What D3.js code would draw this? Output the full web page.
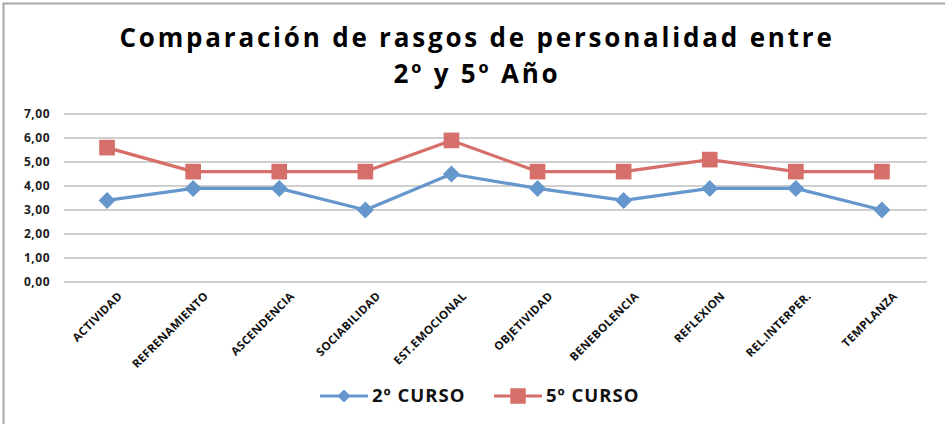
<!DOCTYPE html>
<html>
<head>
<meta charset="utf-8">
<script src="https://cdn.jsdelivr.net/npm/d3@7"></script>
<style>
  body { margin: 0; background: #fff; }
  svg { display: block; font-family: "Open Sans", "DejaVu Sans", sans-serif; }
</style>
</head>
<body>
<div id="chart"></div>
<script>
// data
var categories = ["ACTIVIDAD", "REFRENAMIENTO", "ASCENDENCIA", "SOCIABILIDAD", "EST.EMOCIONAL",
                  "OBJETIVIDAD", "BENEBOLENCIA", "REFLEXION", "REL.INTERPER.", "TEMPLANZA"];
var curso2 = [3.4, 3.9, 3.9, 3.0, 4.5, 3.9, 3.4, 3.9, 3.9, 3.0];
var curso5 = [5.6, 4.6, 4.6, 4.6, 5.9, 4.6, 4.6, 5.1, 4.6, 4.6];
var seriesNames = ["2º CURSO", "5º CURSO"];
var yTicks = [0, 1, 2, 3, 4, 5, 6, 7];

var width = 945, height = 424;
var blue = "#6597cd", red = "#d66e69";

var svg = d3.select("#chart").append("svg")
    .attr("width", width)
    .attr("height", height);

// frame
svg.append("path")
    .attr("d", "M3.5," + height + " V3.5 H" + width)
    .attr("fill", "none")
    .attr("stroke", "#a6a6a6")
    .attr("stroke-width", 2);

/* Scales */
var xScale = d3.scaleBand()
    .domain(categories)
    .range([64, 925]);

var yScale = d3.scaleLinear()
    .domain([0, 7])
    .range([282, 114]);

var fmt = v => d3.format(".2f")(v).replace(".", ",");

// gridlines
svg.append("g")
    .selectAll("line")
    .data(yTicks)
    .enter().append("line")
    .attr("x1", 64).attr("x2", 927)
    .attr("y1", d => yScale(d)).attr("y2", d => yScale(d))
    .attr("stroke", "#bfbfbf")
    .attr("stroke-width", 1.3);

// y axis labels
var yAxis = d3.axisLeft(yScale)
    .tickValues(yTicks)
    .tickFormat(fmt)
    .tickSize(0)
    .tickPadding(14);

svg.append("g")
    .attr("transform", "translate(64,0)")
    .call(yAxis)
    .call(g => g.select(".domain").remove())
    .selectAll("text")
    .attr("font-family", "Open Sans, sans-serif")
    .attr("font-size", "12px")
    .attr("font-weight", "bold")
    .attr("letter-spacing", "0.5px")
    .attr("fill", "#222");

// x axis labels, rotated
var xAxis = d3.axisBottom(xScale).tickSize(0).tickPadding(0);
svg.append("g")
    .attr("transform", "translate(0,282)")
    .call(xAxis)
    .call(g => g.select(".domain").remove())
    .selectAll("text")
    .attr("font-family", "Open Sans, sans-serif")
    .attr("font-size", "11.5px")
    .attr("font-weight", "bold")
    .attr("letter-spacing", "0.3px")
    .attr("fill", "#111")
    .attr("text-anchor", "end")
    .attr("dy", "0.35em")
    .attr("transform", "translate(13,12) rotate(-45)");

/* Lines */
var line = d3.line()
    .x((d, i) => xScale(categories[i]) + xScale.bandwidth() / 2)
    .y(d => yScale(d));

var diamond = d3.symbol().type(d3.symbolDiamond2).size(185);
var square = d3.symbol().type(d3.symbolSquare).size(245);

var series = [
    {name: seriesNames[0], values: curso2, color: blue, symbol: diamond},
    {name: seriesNames[1], values: curso5, color: red, symbol: square}
];

series.forEach(s => {
    svg.append("path")
        .attr("d", line(s.values))
        .attr("fill", "none")
        .attr("stroke", s.color)
        .attr("stroke-width", 3.2)
        .attr("stroke-linejoin", "round");

    svg.append("g")
        .selectAll("path")
        .data(s.values)
        .enter().append("path")
        .attr("transform", (d, i) => `translate(${xScale(categories[i]) + xScale.bandwidth() / 2},${yScale(d)})`)
        .attr("d", s.symbol)
        .attr("fill", s.color);
});

// Title
var title = svg.append("g")
    .attr("font-family", "Open Sans, sans-serif")
    .attr("font-weight", "bold")
    .attr("fill", "#000")
    .attr("text-anchor", "middle")
    .attr("letter-spacing", "2.8px");
title.append("text")
    .attr("x", 477).attr("y", 47)
    .style("font-size", "26px")
    .text("Comparación de rasgos de personalidad entre");
title.append("text")
    .attr("x", 477).attr("y", 83)
    .style("font-size", "26px")
    .text("2º y 5º Año");

// Legends
var legendX = [320, 494];
var legend = svg.selectAll(".legend")
    .data(series)
    .enter().append("g")
    .attr("class", "legend")
    .attr("transform", (d, i) => `translate(${legendX[i]},396)`);

legend.append("line")
    .attr("x1", 0).attr("x2", 48)
    .attr("stroke", d => d.color)
    .attr("stroke-width", 3.2);
legend.append("path")
    .attr("transform", "translate(24,0)")
    .attr("d", (d, i) => i == 0 ? d3.symbol().type(d3.symbolDiamond2).size(110)() : d3.symbol().type(d3.symbolSquare).size(240)())
    .attr("fill", d => d.color);
legend.append("text")
    .attr("x", 52)
    .attr("dy", "0.35em")
    .attr("font-family", "Open Sans, sans-serif")
    .attr("font-size", "18.5px")
    .attr("font-weight", "bold")
    .attr("letter-spacing", "1px")
    .attr("fill", "#111")
    .text(d => d.name);
</script>
</body>
</html>
